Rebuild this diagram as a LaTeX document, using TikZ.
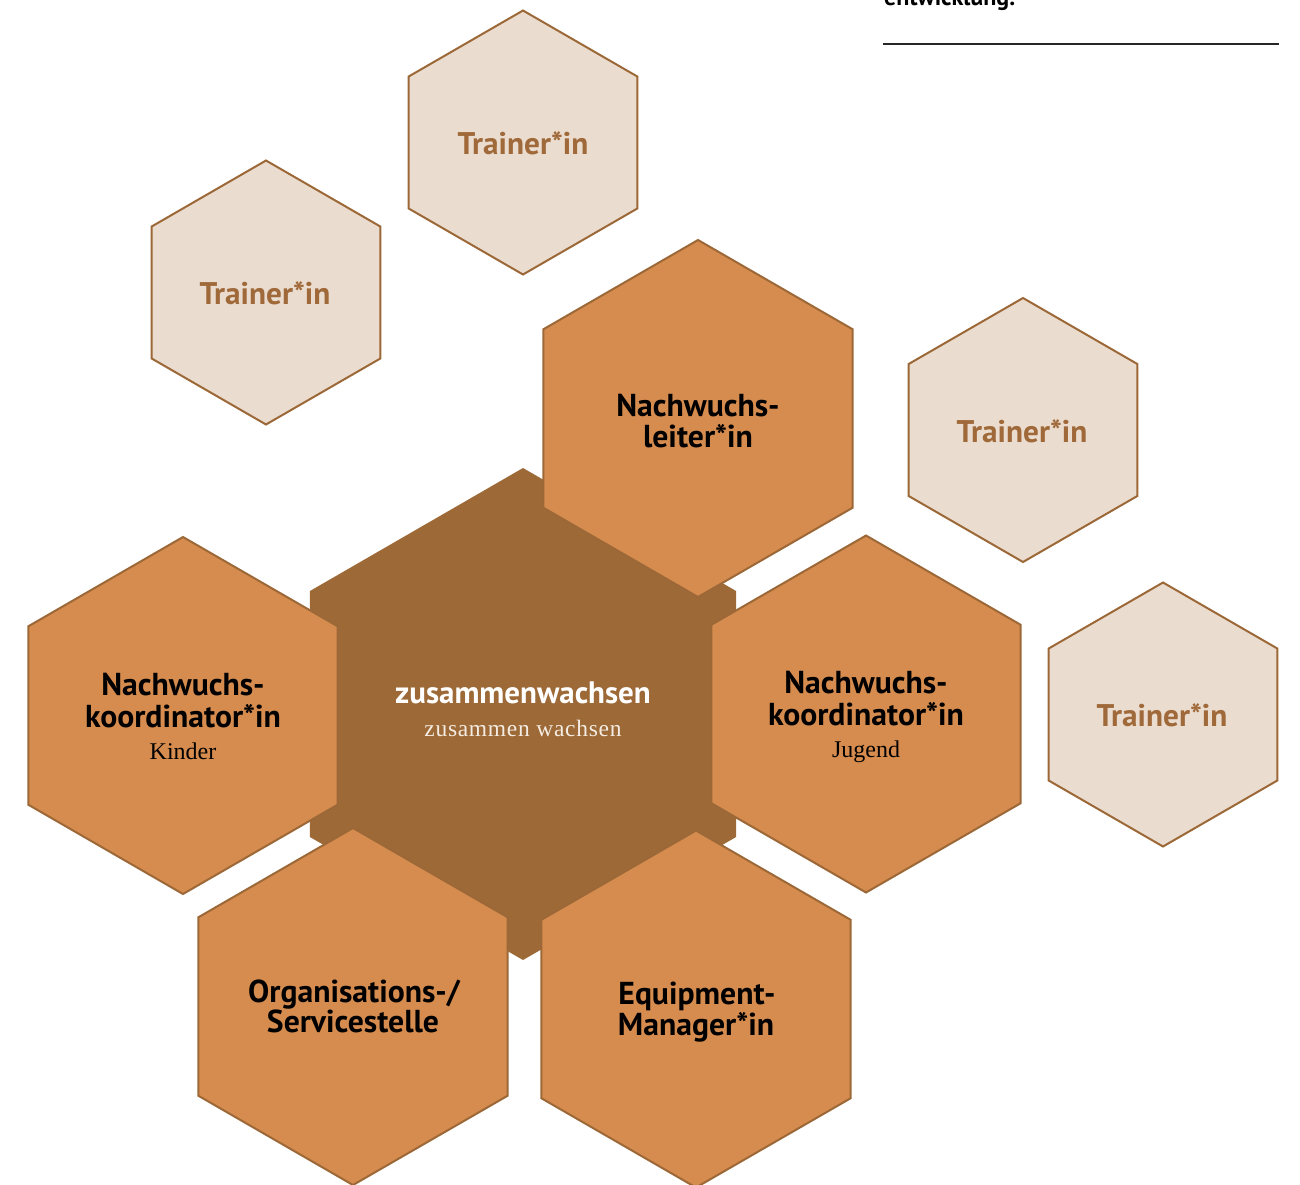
\documentclass[tikz,border=0pt]{standalone}
\usepackage{fontspec}
\setmainfont{Liberation Serif}
\newfontfamily\hsans{PT Sans}
\usetikzlibrary{shapes.geometric}
\definecolor{hexdark}{HTML}{9C6937}
\definecolor{hexorange}{HTML}{D68C4E}
\definecolor{hexlight}{HTML}{EADCCE}
\definecolor{hexline}{HTML}{9C6837}
\definecolor{trainertext}{HTML}{A0693A}
\definecolor{creamtext}{HTML}{F4ECE2}
\tikzset{
  hexbase/.style={regular polygon, regular polygon sides=6, shape border rotate=30,
    inner sep=0pt, outer sep=0pt},
  hexcenter/.style={hexbase, fill=hexdark, minimum size=492pt},
  hexrole/.style={hexbase, fill=hexorange, draw=hexline, line width=2pt, minimum size=357pt},
  hextrainer/.style={hexbase, fill=hexlight, draw=hexline, line width=2pt, minimum size=264pt},
  rolelabel/.style={anchor=base, inner sep=0pt, font=\hsans\bfseries\fontsize{31.7}{33}\selectfont, text=black},
  sublabel/.style={anchor=base, inner sep=0pt, font=\fontsize{24}{26}\selectfont, text=black},
  trainerlabel/.style={anchor=base, inner sep=0pt, font=\hsans\bfseries\fontsize{31.3}{33}\selectfont, text=trainertext},
}
\begin{document}
\begin{tikzpicture}[x=1pt,y=-1pt]
\fill[white] (0,0) rectangle (1300,1184);
\useasboundingbox (0,0) rectangle (1300,1184);
\clip (0,0) rectangle (1300,1184);

% header remnant
\node[anchor=base west, inner sep=0pt, font=\hsans\bfseries\fontsize{24}{26}\selectfont] (head) at (884,5) {entwicklung.};
\coordinate (rulea) at (883,44);
\coordinate (ruleb) at (1279,44);
\draw[line width=1.3pt, black!85] (rulea) -- (ruleb);

% trainer hexagons
\node[hextrainer] (t1) at (523,142.5) {};
\node[hextrainer] (t2) at (266,292.5) {};
\node[hextrainer] (t3) at (1023,430) {};
\node[hextrainer] (t4) at (1163,714.5) {};
\node[trainerlabel] (t1l) at (523,154) {Trainer*in};
\node[trainerlabel] (t2l) at (265,304) {Trainer*in};
\node[trainerlabel] (t3l) at (1022,442) {Trainer*in};
\node[trainerlabel] (t4l) at (1162,726) {Trainer*in};

% central hexagon
\node[hexcenter] (center) at (523,714) {};

% role hexagons
\node[hexrole] (nl) at (698,418.5) {};
\node[hexrole] (nkk) at (183,715.5) {};
\node[hexrole] (nkj) at (866,714) {};
\node[hexrole] (org) at (353,1006.5) {};
\node[hexrole] (eq) at (696,1009) {};

% central labels
\node[anchor=base, inner sep=0pt, font=\hsans\bfseries\fontsize{31}{33}\selectfont, text=white] (c1) at (523,703) {zusammenwachsen};
\node[anchor=base, inner sep=0pt, font=\fontsize{23.5}{25}\selectfont\addfontfeature{LetterSpace=3}, text=creamtext] (c2) at (523,736) {zusammen wachsen};

% role labels
\node[rolelabel] (nl1) at (698,416) {Nachwuchs-};
\node[rolelabel] (nl2) at (698,447) {leiter*in};

\node[rolelabel] (nkk1) at (183,695) {Nachwuchs-};
\node[rolelabel] (nkk2) at (183,727) {koordinator*in};
\node[sublabel] (nkk3) at (183,759) {Kinder};

\node[rolelabel] (nkj1) at (866,693) {Nachwuchs-};
\node[rolelabel] (nkj2) at (866,725) {koordinator*in};
\node[sublabel] (nkj3) at (866,757) {Jugend};

\node[rolelabel] (org1) at (354,1002) {Organisations-/};
\node[rolelabel] (org2) at (353,1032) {Servicestelle};

\node[rolelabel] (eq1) at (697,1004) {Equipment-};
\node[rolelabel] (eq2) at (696,1035) {Manager*in};
\end{tikzpicture}
\end{document}
